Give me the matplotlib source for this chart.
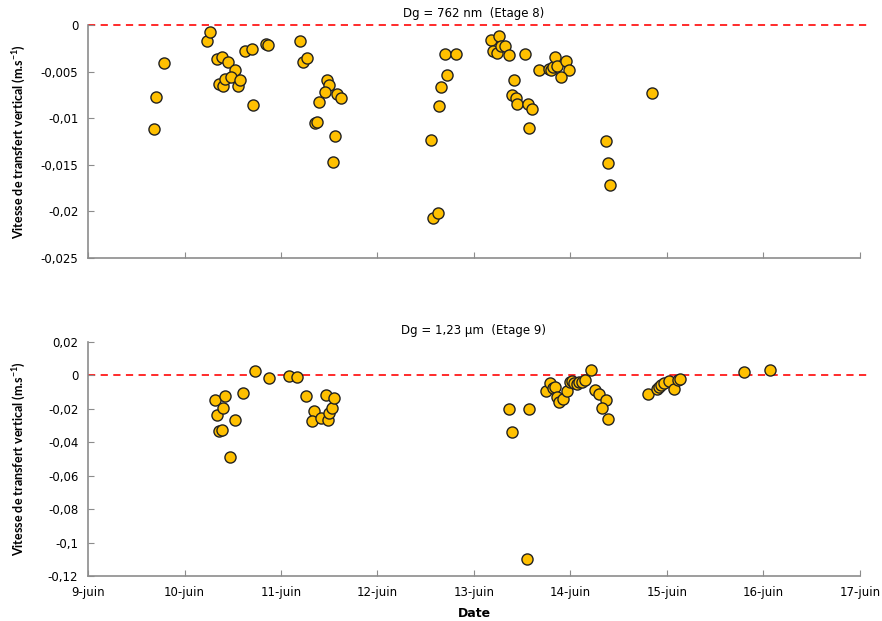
import matplotlib
matplotlib.use('Agg')
import matplotlib.pyplot as plt
from matplotlib.ticker import FixedLocator

plt.rcParams['font.family'] = ['DejaVu Sans']

# Etage 8 : Dg = 762 nm  (jour de juin, vitesse en m/s)
jour_e8 = [9.684, 9.705, 9.788, 10.237, 10.268, 10.333, 10.385, 10.451, 10.527,
           10.361, 10.403, 10.420, 10.485, 10.554, 10.575, 10.627, 10.699, 10.713,
           10.841, 10.865, 11.197, 11.225, 11.266, 11.474, 11.494, 11.453, 11.391,
           11.352, 11.370, 11.577, 11.619, 11.556, 11.539, 12.551, 12.575, 12.624,
           12.637, 12.655, 12.723, 12.703, 12.810, 13.180, 13.262, 13.200, 13.241,
           13.283, 13.325, 13.366, 13.532, 13.411, 13.390, 13.432, 13.449, 13.556,
           13.598, 13.573, 13.677, 13.774, 13.795, 13.815, 13.843, 13.863, 13.950,
           13.981, 13.905, 14.848, 14.371, 14.389, 14.409]
vit_e8 = [-0.0112, -0.0077, -0.0041, -0.0017, -0.0007, -0.0036, -0.0034, -0.0040, -0.0048,
          -0.0063, -0.0065, -0.0058, -0.0056, -0.0065, -0.0059, -0.0028, -0.0026, -0.0086,
          -0.0020, -0.0021, -0.0017, -0.0040, -0.0035, -0.0059, -0.0064, -0.0072, -0.0083,
          -0.0105, -0.0104, -0.0074, -0.0078, -0.0119, -0.0147, -0.0123, -0.0207, -0.0202,
          -0.0087, -0.0066, -0.0054, -0.0031, -0.0031, -0.0016, -0.0012, -0.0028, -0.0030,
          -0.0023, -0.0022, -0.0032, -0.0031, -0.0059, -0.0075, -0.0078, -0.0085, -0.0085,
          -0.0090, -0.0110, -0.0048, -0.0047, -0.0048, -0.0045, -0.0034, -0.0044, -0.0039,
          -0.0048, -0.0056, -0.0073, -0.0124, -0.0148, -0.0172]

# Etage 9 : Dg = 1,23 µm
jour_e9 = [10.316, 10.333, 10.420, 10.399, 10.361, 10.385, 10.468, 10.520, 10.606,
           10.731, 10.879, 11.086, 11.169, 11.259, 11.342, 11.318, 11.411, 11.463,
           11.484, 11.500, 11.531, 11.552, 13.360, 13.397, 13.567, 13.546, 13.746,
           13.791, 13.815, 13.839, 13.863, 13.877, 13.925, 13.961, 13.995, 14.012,
           14.036, 14.064, 14.091, 14.119, 14.153, 14.216, 14.254, 14.299, 14.365,
           14.323, 14.389, 14.800, 14.900, 14.920, 14.943, 14.970, 15.017, 15.073,
           15.111, 15.135, 15.798, 16.070]
vit_e9 = [-0.0148, -0.0234, -0.0124, -0.0195, -0.0334, -0.0327, -0.0489, -0.0268, -0.0104,
          0.0026, -0.0014, -0.0004, -0.0012, -0.0124, -0.0212, -0.0272, -0.0252, -0.0120,
          -0.0264, -0.0224, -0.0194, -0.0138, -0.0200, -0.0338, -0.0202, -0.1099, -0.0096,
          -0.0044, -0.0078, -0.0068, -0.0132, -0.0160, -0.0140, -0.0092, -0.0040, -0.0034,
          -0.0044, -0.0052, -0.0038, -0.0040, -0.0028, 0.0034, -0.0086, -0.0114, -0.0146,
          -0.0196, -0.0260, -0.0114, -0.0082, -0.0072, -0.0056, -0.0044, -0.0036, -0.0080,
          -0.0028, -0.0020, 0.0022, 0.0032]

jours = [9, 10, 11, 12, 13, 14, 15, 16, 17]
jour_labels = [f"{j}-juin" for j in jours]

yt_e8 = [0, -0.005, -0.01, -0.015, -0.02, -0.025]
yl_e8 = ["0", "-0,005", "-0,01", "-0,015", "-0,02", "-0,025"]
yt_e9 = [0.02, 0, -0.02, -0.04, -0.06, -0.08, -0.1, -0.12]
yl_e9 = ["0,02", "0", "-0,02", "-0,04", "-0,06", "-0,08", "-0,1", "-0,12"]

YLABEL = "Vitesse de transfert vertical (m.s$^{\\mathregular{-1}}$)"
GREY = '#8c8c8c'

fig = plt.figure(figsize=(8.82, 6.21), dpi=100)
ax1 = fig.add_axes([0.0998, 0.5845, 0.8752, 0.3752])
ax2 = fig.add_axes([0.0998, 0.0725, 0.8752, 0.3768])


def style(ax, yt, yl, ylim, title, show_x):
    # ligne zero en tirets rouges, un peu plus longue que l'axe
    ax.plot([9, 17.08], [0, 0], color='#ff1a1a', ls=(0, (4, 3)), lw=1.3,
            zorder=1, clip_on=False)
    for s in ['top', 'right']:
        ax.spines[s].set_visible(False)
    for s in ['left', 'bottom']:
        ax.spines[s].set_color(GREY)
        ax.spines[s].set_linewidth(1.2)
    ax.set_xlim(9, 17)
    ax.set_ylim(*ylim)
    ax.xaxis.set_major_locator(FixedLocator(jours))
    ax.set_yticks(yt)
    ax.set_yticklabels(yl)
    if show_x:
        ax.set_xticklabels(jour_labels)
    else:
        ax.set_xticklabels([])
    ax.tick_params(direction='in', length=4, color=GREY, labelsize=8.5)
    ax.tick_params(axis='y', pad=7)
    ax.tick_params(axis='x', pad=7)
    ax.set_title(title, fontsize=8.5, pad=6)
    ax.set_ylabel(YLABEL, fontsize=9, fontweight='bold', family=['Lato', 'DejaVu Sans'])
    ax.yaxis.set_label_coords(-0.078, 0.5)


style(ax1, yt_e8, yl_e8, (-0.025, 0), "Dg = 762 nm  (Etage 8)", False)
style(ax2, yt_e9, yl_e9, (-0.12, 0.02), "Dg = 1,23 µm  (Etage 9)", True)

ax1.scatter(jour_e8, vit_e8, s=64, facecolor='#ffc000', edgecolor='#222222',
            linewidth=1.0, zorder=3, clip_on=False)
ax2.scatter(jour_e9, vit_e9, s=64, facecolor='#ffc000', edgecolor='#222222',
            linewidth=1.0, zorder=3, clip_on=False)
ax2.set_xlabel("Date", fontsize=9, fontweight='bold', labelpad=6)

fig.savefig("out.png", dpi=100, facecolor='white')
